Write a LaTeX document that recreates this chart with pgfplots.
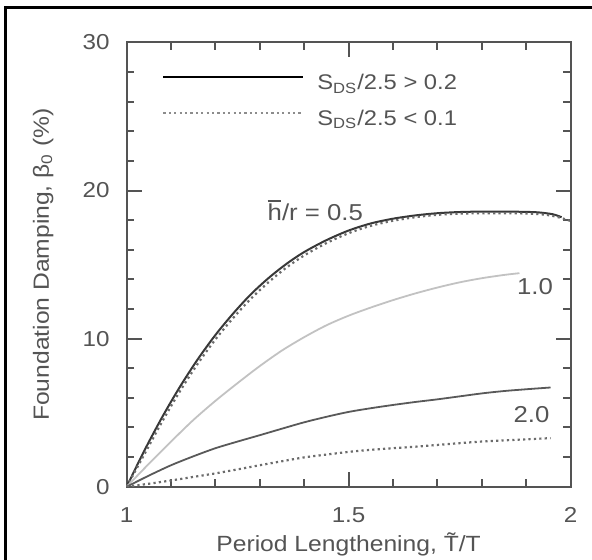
\documentclass[border=0pt]{standalone}
\usepackage{fontspec}
\setmainfont{Liberation Sans}[FakeStretch=1.12]
\usepackage{pgfplots}
\pgfplotsset{compat=1.18}

\definecolor{ink}{gray}{0.33}
\definecolor{darkline}{gray}{0.22}
\definecolor{lightline}{gray}{0.76}
\definecolor{midline}{gray}{0.35}
\definecolor{dotline}{gray}{0.42}

\begin{document}
\begin{tikzpicture}
\useasboundingbox (-63.35pt,-36.65pt) rectangle (232.65pt,243.35pt);
% scan frame (left and top edges only)
\draw[line width=1.3pt, black] (-60.7pt,-40pt) -- (-60.7pt,239.7pt) -- (240pt,239.7pt);

\begin{axis}[
  scale only axis,
  width=221.9pt, height=222.1pt,
  xmin=1, xmax=2, ymin=0, ymax=30,
  xtick={1,1.5,2}, xticklabels={1,1.5,2},
  ytick={0,10,20,30}, yticklabels={0,10,20,30},
  minor x tick num=4, minor y tick num=4,
  tick align=inside,
  major tick length=7.5pt, minor tick length=3.75pt,
  axis line style={draw=ink, line width=1pt},
  every tick/.style={draw=ink, line width=1pt},
  tick label style={font=\fontsize{10.8}{12}\selectfont, text=ink},
  yticklabel style={xshift=-5pt},
  xticklabel style={yshift=-7pt},
  label style={font=\fontsize{11}{13}\selectfont, text=ink},
  xlabel={Period Lengthening, \~{T}/T},
  ylabel={Foundation Damping, β\textsubscript{0} (\%)},
  xlabel style={at={(axis description cs:0.5,-0.13)}, anchor=center},
  ylabel style={at={(axis description cs:-0.188,0.5)}, anchor=center},
  legend style={at={(rel axis cs:0,1)}, anchor=north west,
    xshift=17.65pt, yshift=-16pt, draw=none, fill=none,
    inner sep=0pt, column sep=6.5pt, row sep=8.4pt,
    font=\fontsize{10.6}{12}\selectfont, text=ink,
    nodes={inner sep=0pt, text height=7.5pt, text depth=2pt}},
  legend cell align=left,
  legend image code/.code={\draw[#1] (0pt,3.6pt) -- (70pt,3.6pt);},
]

\addlegendimage{black, line width=1pt}
\addlegendentry{S\textsubscript{DS}/2.5 > 0.2}
\addlegendimage{black!45, line width=1pt, dash pattern=on 1.1pt off 1.6pt}
\addlegendentry{S\textsubscript{DS}/2.5 < 0.1}

% h/r = 0.5, S_DS/2.5 > 0.2
\addplot[forget plot, darkline, line width=1pt, smooth] coordinates {
(1.00,0.00) (1.04,2.45) (1.08,4.70) (1.12,6.75) (1.16,8.60) (1.20,10.25)
(1.24,11.70) (1.28,13.00) (1.32,14.10) (1.36,15.05) (1.40,15.85) (1.45,16.65)
(1.50,17.30) (1.55,17.78) (1.60,18.10) (1.65,18.32) (1.70,18.47) (1.75,18.55)
(1.80,18.58) (1.85,18.58) (1.90,18.56) (1.93,18.52) (1.96,18.40) (1.98,18.20)
};
% h/r = 0.5, S_DS/2.5 < 0.1
\addplot[forget plot, dotline, line width=1.1pt, dash pattern=on 1.1pt off 1.6pt, smooth] coordinates {
(1.00,0.00) (1.04,2.20) (1.08,4.40) (1.12,6.45) (1.16,8.30) (1.20,9.95)
(1.24,11.40) (1.28,12.70) (1.32,13.82) (1.36,14.80) (1.40,15.62) (1.45,16.45)
(1.50,17.12) (1.55,17.62) (1.60,17.96) (1.65,18.20) (1.70,18.36) (1.75,18.44)
(1.80,18.47) (1.85,18.47) (1.90,18.45) (1.94,18.38) (1.97,18.22) (2.00,17.95)
};
% h/r = 1.0
\addplot[forget plot, lightline, line width=0.9pt, smooth] coordinates {
(1.00,0.00) (1.05,1.55) (1.10,3.05) (1.15,4.50) (1.20,5.80) (1.25,7.00)
(1.30,8.15) (1.35,9.20) (1.40,10.10) (1.45,10.90) (1.50,11.55) (1.55,12.10)
(1.60,12.60) (1.65,13.05) (1.70,13.45) (1.75,13.80) (1.80,14.08) (1.85,14.30)
(1.885,14.42)
};
% h/r = 2.0, S_DS/2.5 > 0.2
\addplot[forget plot, midline, line width=0.9pt, smooth] coordinates {
(1.00,0.00) (1.05,0.75) (1.10,1.45) (1.15,2.05) (1.20,2.60) (1.25,3.05)
(1.30,3.48) (1.35,3.92) (1.40,4.35) (1.45,4.72) (1.50,5.05) (1.55,5.30)
(1.60,5.52) (1.65,5.72) (1.70,5.90) (1.75,6.10) (1.80,6.30) (1.85,6.46)
(1.90,6.58) (1.955,6.70)
};
% h/r = 2.0, S_DS/2.5 < 0.1
\addplot[forget plot, dotline, line width=1.1pt, dash pattern=on 1.1pt off 1.6pt, smooth] coordinates {
(1.00,0.00) (1.05,0.20) (1.10,0.42) (1.15,0.66) (1.20,0.90) (1.25,1.17)
(1.30,1.45) (1.35,1.72) (1.40,1.98) (1.45,2.17) (1.50,2.35) (1.55,2.49)
(1.60,2.60) (1.65,2.70) (1.70,2.82) (1.75,2.94) (1.80,3.05) (1.85,3.13)
(1.90,3.20) (1.955,3.28)
};

\node[font=\fontsize{11.5}{13}\selectfont, text=ink] at (axis cs:1.425,18.65)
  {\rlap{\raisebox{9.6pt}{\rule{6.4pt}{0.7pt}}}h/r = 0.5};
\node[font=\fontsize{11.5}{13}\selectfont, text=ink] at (axis cs:1.92,13.5) {1.0};
\node[font=\fontsize{11.5}{13}\selectfont, text=ink] at (axis cs:1.912,4.85) {2.0};
\end{axis}
\end{tikzpicture}
\end{document}
